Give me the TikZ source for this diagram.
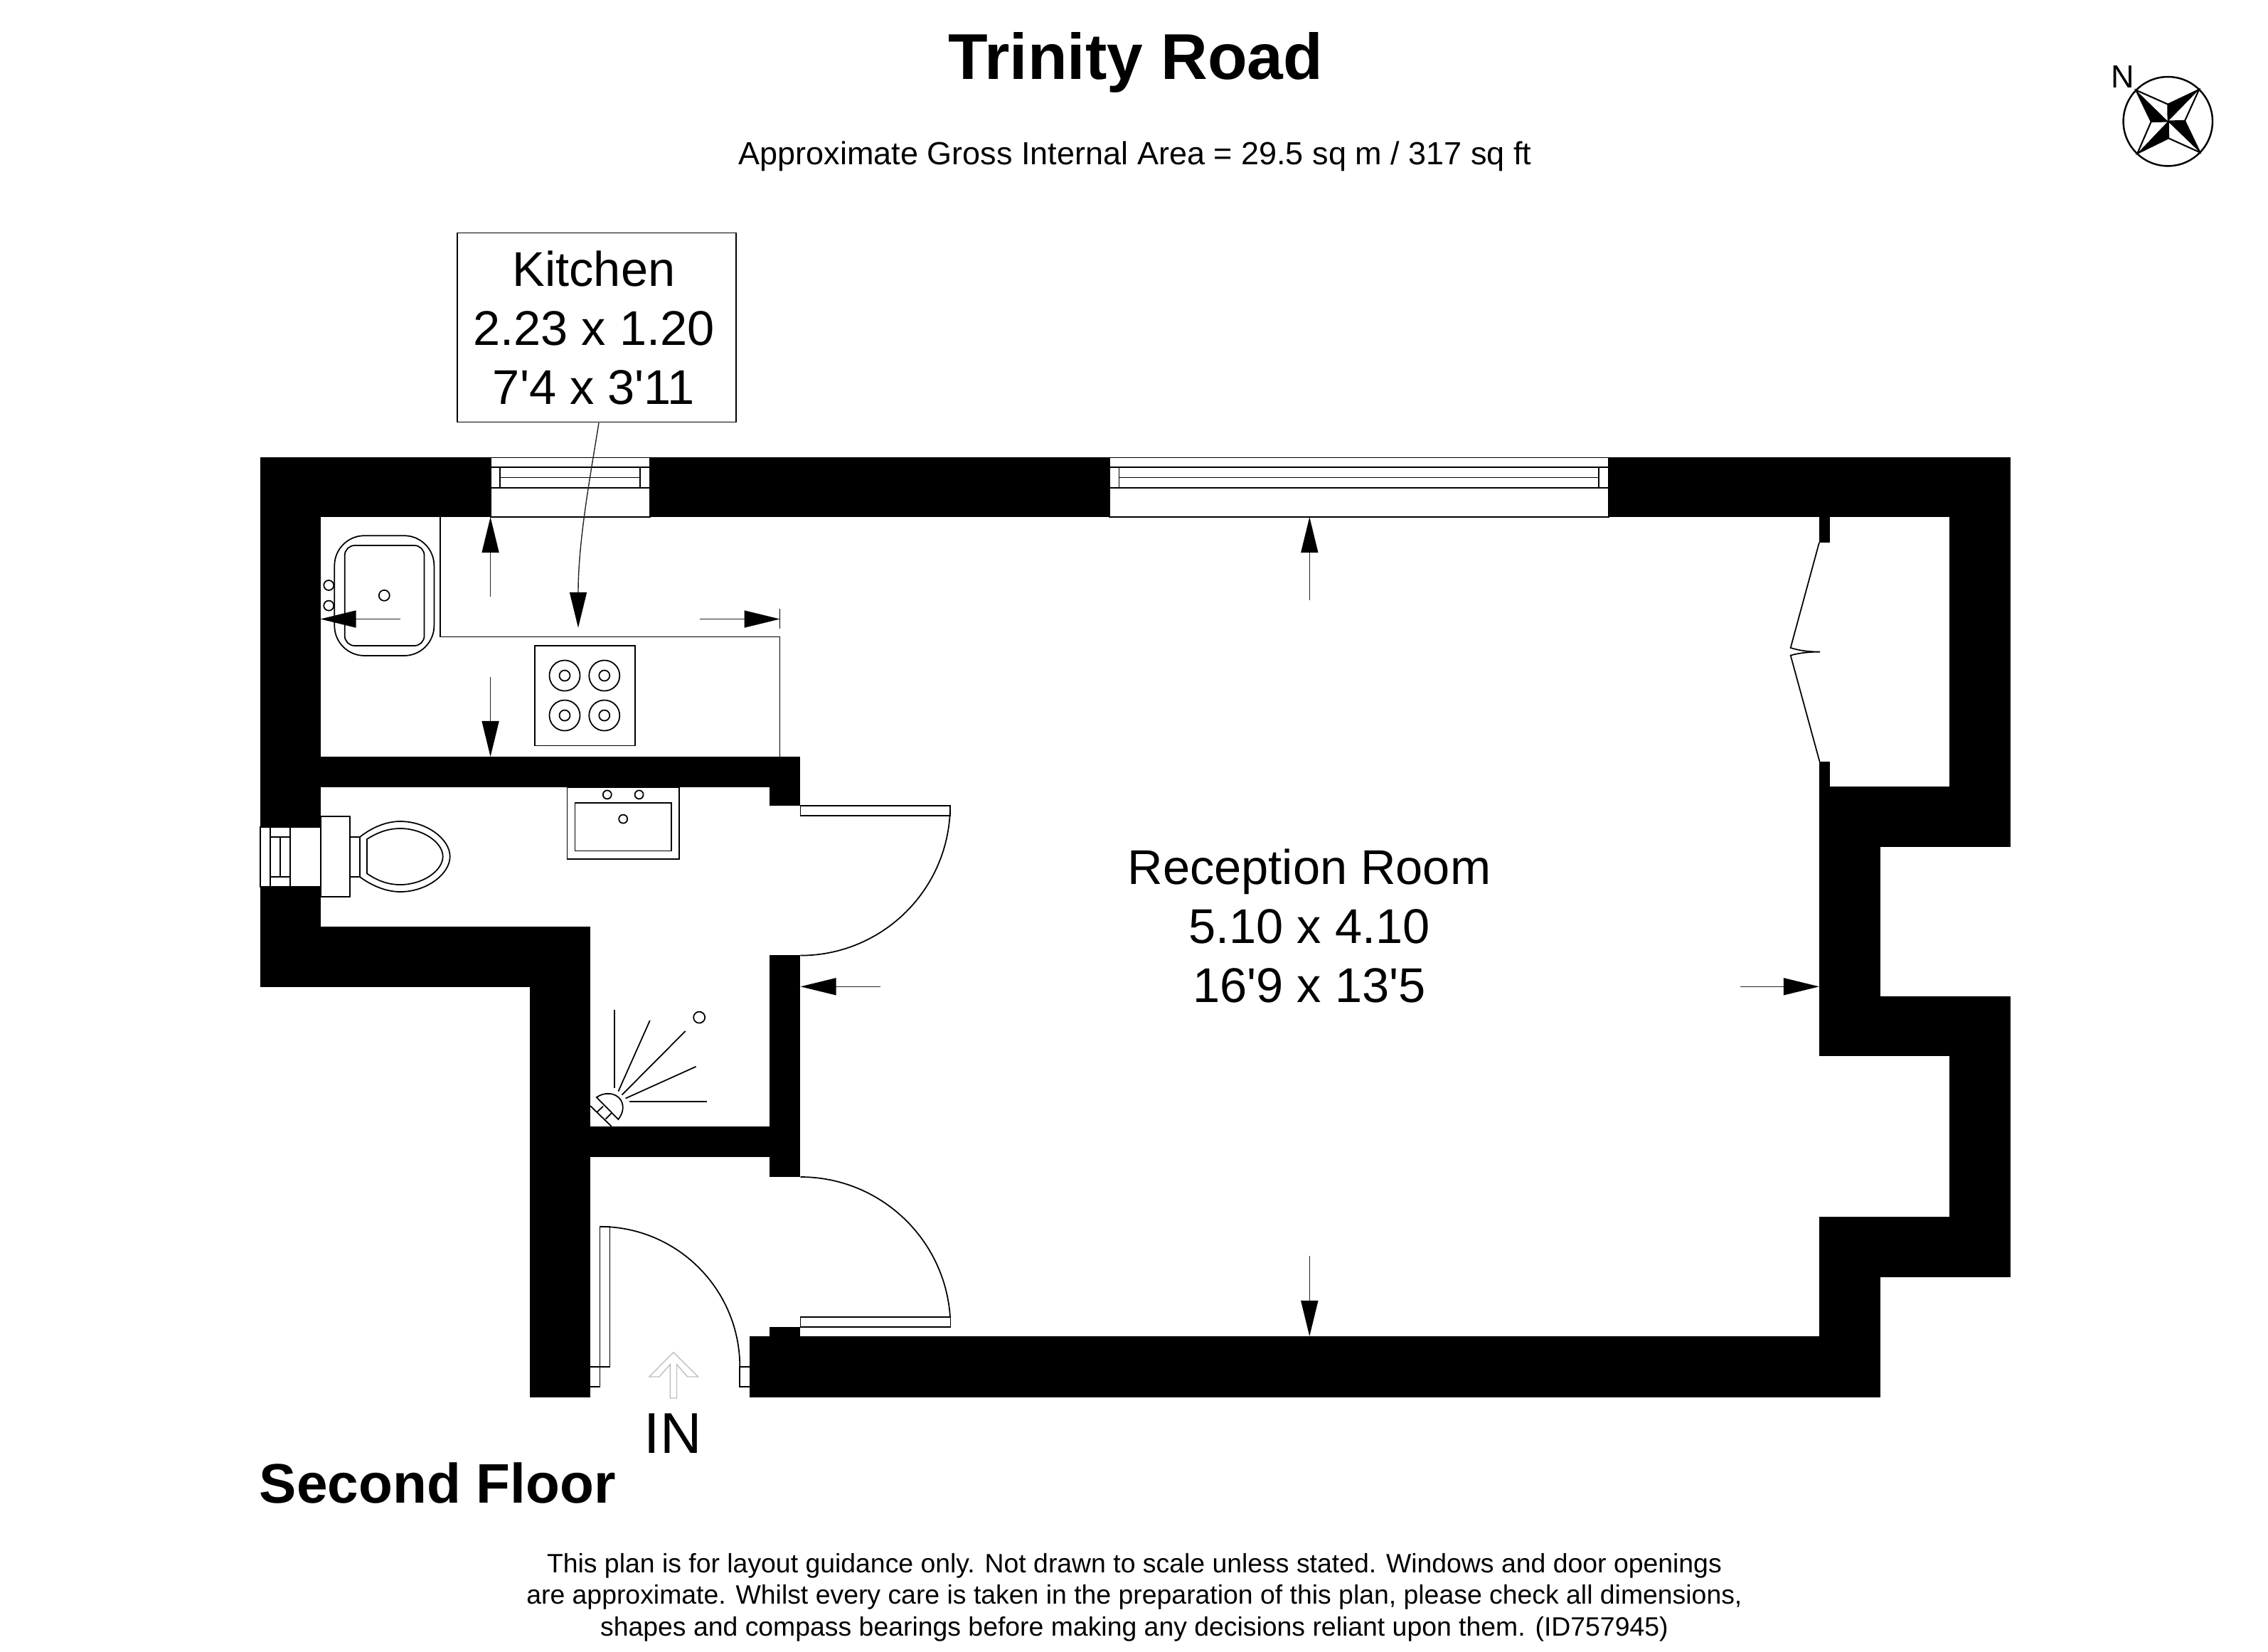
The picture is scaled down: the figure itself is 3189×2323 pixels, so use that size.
\documentclass[tikz,border=0pt]{standalone}
\usepackage{fontspec}
\setmainfont{Liberation Sans}
\usetikzlibrary{arrows.meta}
\tikzset{
  wall/.style={fill=black},
  thinline/.style={line width=0.5pt,color=black},
  dimline/.style={line width=0.4pt,color=black!85,-{Triangle[length=5mm,width=2.4mm,color=black,fill=black]}},
  roomtext/.style={inner sep=0pt,align=center,font=\fontsize{19.5pt}{23.6pt}\selectfont}
}
\begin{document}
\begin{tikzpicture}[x=0.01cm,y=-0.01cm]
        \useasboundingbox (0,0) rectangle (3189,2323);
        \fill [white] (0,0) rectangle (3189,2323);

        % walls
        \fill [wall] (365.5,642.5) rectangle (690,727);
        \fill [wall] (914,642.5) rectangle (1559.7,727);
        \fill [wall] (2262,642.5) rectangle (2826.7,727);
        \fill [wall] (365.5,727) rectangle (450.5,1163.3);
        \fill [wall] (365.5,1246.7) rectangle (450.5,1302.6);
        \fill [wall] (365.5,1302.6) rectangle (830,1388);
        \fill [wall] (745,1388) rectangle (830,1964.6);
        \fill [wall] (450.5,1064) rectangle (1125.4,1107);
        \fill [wall] (1082.3,1107) rectangle (1125.4,1132.8);
        \fill [wall] (1082.3,1343) rectangle (1125.4,1655);
        \fill [wall] (830,1584) rectangle (1082.3,1626.6);
        \fill [wall] (1082.3,1866) rectangle (1125.4,1880);
        \fill [wall] (1054,1879) rectangle (2644,1964.6);
        \fill [wall] (2741,727) rectangle (2826.7,1106.4);
        \fill [wall] (2558,727) rectangle (2573,762.7);
        \fill [wall] (2558,1070.8) rectangle (2573,1106.4);
        \fill [wall] (2558,1106.4) rectangle (2826.7,1191);
        \fill [wall] (2558,1191) rectangle (2643.7,1401);
        \fill [wall] (2558,1401) rectangle (2826.7,1485);
        \fill [wall] (2741,1485) rectangle (2826.7,1711);
        \fill [wall] (2558,1711) rectangle (2826.7,1796);
        \fill [wall] (2558,1796) rectangle (2643.7,1880);

        % windows
        \draw [thinline] (690,643.5) rectangle (914,727);
        \draw [thinline] (690,656.7) -- (914,656.7);
        \draw [thinline] (690,685.8) -- (914,685.8);
        \draw [thinline] (703,671.5) -- (900,671.5);
        \draw [thinline] (703,656.7) -- (703,685.8);
        \draw [thinline] (900,656.7) -- (900,685.8);
        \draw [thinline] (1559.7,643.5) rectangle (2262,727);
        \draw [thinline] (1559.7,656.7) -- (2262,656.7);
        \draw [thinline] (1559.7,685.8) -- (2262,685.8);
        \draw [thinline] (1573.5,671.5) -- (2248,671.5);
        \draw [thinline] (1573.5,656.7) -- (1573.5,685.8);
        \draw [thinline] (2248,656.7) -- (2248,685.8);
        \draw [thinline] (366,1163.3) rectangle (450.5,1246.7);
        \draw [thinline] (379.7,1163.3) -- (379.7,1246.7);
        \draw [thinline] (407.7,1163.3) -- (407.7,1246.7);
        \draw [thinline] (379.7,1176.7) -- (407.7,1176.7);
        \draw [thinline] (379.7,1233.3) -- (407.7,1233.3);
        \draw [thinline] (393.7,1176.7) -- (393.7,1233.3);

        % doors
        \draw [thinline] (1125.4,1132.8) rectangle (1336,1147);
        \draw [thinline] (1336,1133) arc (0:90:210.6);
        \draw [thinline] (1125.4,1852) rectangle (1336.4,1866);
        \draw [thinline] (1125.5,1655) arc (-90:-4:211);
        \draw [thinline] (830,1922) -- (857.6,1922) -- (857.6,1724.8) -- (843.4,1724.8) -- (843.4,1950) -- (830,1950);
        \draw [thinline] (843.4,1724.8) arc (-90:0:196.9 and 197.2);
        \draw [thinline] (1054,1922) -- (1040.3,1922) -- (1040.3,1950) -- (1054,1950);
        \draw [thinline] (2558,762.7) -- (2517.7,910.9) .. controls (2530,915) and (2545,916.6) .. (2559,916.6) .. controls (2545,916.6) and (2530,918) .. (2517.7,921.6) -- (2558.5,1070.8);

        % kitchen
        \draw [thinline] (619,727) -- (619,895.5) -- (1096.6,895.5) -- (1096.6,1064);
        \draw [thinline] (1096.6,856) -- (1096.6,884);
        \draw [thinline,rounded corners=12] (470.3,753.2) rectangle (610.4,922);
        \draw [thinline,rounded corners=4] (484.7,767) rectangle (596.6,908);
        \draw [thinline] (540.3,837.3) circle (7.5);
        \draw [thinline] (462.3,823) circle (7);
        \draw [thinline] (462.3,851.6) circle (7);
        \draw [thinline] (752,908) rectangle (892.8,1048.6);
        \foreach \hobx in {794,849.8}
          \foreach \hoby in {950,1006} {
            \draw [thinline] (\hobx,\hoby) circle (21.5);
            \draw [thinline] (\hobx,\hoby) circle (7.5);
          }

        % bathroom
        \draw [thinline] (797.5,1107) rectangle (954.8,1207.8);
        \draw [thinline] (808.4,1129) rectangle (943.9,1196.5);
        \draw [thinline] (853.8,1117.4) circle (6);
        \draw [thinline] (898.6,1117.4) circle (6);
        \draw [thinline] (876.2,1151.6) circle (6);
        \draw [thinline] (450.7,1148.3) rectangle (492.3,1261.3);
        \draw [thinline] (492.3,1176.7) rectangle (506.3,1233.3);
        \draw [thinline] (506.3,1176.7) .. controls (525,1162) and (545,1155) .. (562.7,1155) .. controls (600,1155) and (632.7,1180) .. (632.7,1204.3) .. controls (632.7,1229) and (600,1254) .. (562.7,1254) .. controls (545,1254) and (525,1247) .. (506.3,1233.3);
        \draw [thinline] (516,1180) .. controls (530,1171) and (545,1165) .. (562.7,1165) .. controls (595,1165) and (622.7,1185) .. (622.7,1204.3) .. controls (622.7,1224) and (595,1244) .. (562.7,1244) .. controls (545,1244) and (530,1238) .. (516,1228.3) -- cycle;

        % shower
        \draw [thinline] (830,1555) -- (859.7,1583.8);
        \draw [thinline] (848,1555.6) -- (839.3,1564);
        \draw [thinline] (859.7,1565.4) -- (851.5,1573.5);
        \draw [thinline,fill=white] (838.8,1543) .. controls (850,1535) and (866,1536) .. (873,1547) .. controls (878,1556) and (876,1565) .. (869.4,1574) -- cycle;
        \draw [thinline] (864.3,1420.4) -- (864.3,1529.7);
        \draw [thinline] (913.8,1435) -- (869.4,1534.6);
        \draw [thinline] (963.8,1449.8) -- (874.5,1539.6);
        \draw [thinline] (978.6,1499.8) -- (879.6,1544.5);
        \draw [thinline] (993.9,1549) -- (884.7,1549);
        \draw [thinline] (983.2,1430.6) circle (8);

        % entrance arrow
        \draw [line width=0.4pt,color=black!25] (947,1901.6) -- (981.6,1936) -- (966.8,1936) -- (951.5,1918.6) -- (951.5,1966) -- (942.3,1966) -- (942.3,1918.6) -- (927,1936) -- (912.8,1936) -- cycle;

        % dimension arrows
        \draw [dimline] (689.6,839.4) -- (689.6,727);
        \draw [dimline] (689.6,951.6) -- (689.6,1064);
        \draw [dimline] (562.7,870.5) -- (450.5,870.5);
        \draw [dimline] (984,870.5) -- (1096.6,870.5);
        \draw [dimline] (1841.3,843.6) -- (1841.3,727);
        \draw [dimline] (1841.3,1765.5) -- (1841.3,1879);
        \draw [dimline] (1237.8,1387.3) -- (1125.5,1387.3);
        \draw [dimline] (2447,1387.3) -- (2558,1387.3);

        % compass
        \draw [line width=0.7pt] (3048.3,170.7) circle (62.7);
        \fill (3003.3,126.7) -- (3024.7,171) -- (3048.3,170.7) -- cycle;
        \fill (3092,126) -- (3048.3,146.7) -- (3048.3,170.7) -- cycle;
        \fill (3093.3,214.3) -- (3072,170) -- (3048.3,170.7) -- cycle;
        \fill (3005.3,215.7) -- (3049,194.3) -- (3048.3,170.7) -- cycle;
        \draw [line width=0.6pt] (3003.3,126.7) -- (3048.3,146.7) -- (3092,126) -- (3072,170) -- (3093.3,214.3) -- (3049,194.3) -- (3005.3,215.7) -- (3024.7,171) -- cycle;
        \draw [line width=0.6pt] (3024.7,171) -- (3072,170);
        \draw [line width=0.6pt] (3048.3,146.7) -- (3049,194.3);
        \node [inner sep=0pt,font=\fontsize{12.8pt}{15pt}\selectfont] (north) at (2984.3,107.7) {N};

        % texts
        \node [inner sep=0pt,font=\fontsize{25.9pt}{30pt}\selectfont\bfseries] (title) at (1597,88) {Trinity Road};
        \node [inner sep=0pt,font=\fontsize{12.8pt}{15pt}\selectfont] (area) at (1596,220) {Approximate Gross Internal Area = 29.5 sq m / 317 sq ft};
        \node [draw,line width=0.5pt,minimum width=3.92cm,minimum height=2.66cm] (kitchenbox) at (839,460.5) {};
        \node [roomtext] (kitchen) at (835,460.5) {Kitchen\\2.23 x 1.20\\7\textquotesingle 4 x 3\textquotesingle 11};
        \node [roomtext] (reception) at (1841,1302) {Reception Room\\5.10 x 4.10\\16\textquotesingle 9 x 13\textquotesingle 5};
        \node [inner sep=0pt,font=\fontsize{23pt}{27pt}\selectfont] (entry) at (946,2016) {IN};
        \node [inner sep=0pt,anchor=west,font=\fontsize{22.3pt}{27pt}\selectfont\bfseries] (floor) at (364,2085) {Second Floor};
        \node [inner sep=0pt,align=center,font=\fontsize{10.63pt}{12.6pt}\selectfont] (notice) at (1595,2246) {This plan is for layout guidance only. Not drawn to scale unless stated. Windows and door openings\\are approximate. Whilst every care is taken in the preparation of this plan, please check all dimensions,\\shapes and compass bearings before making any decisions reliant upon them. (ID757945)};

        % kitchen leader
        \coordinate (hobtip) at (813,882.8);
        \draw [dimline] ([xshift=0.03cm]kitchenbox.south) .. controls (830,670) and (813,760) .. (hobtip);
\end{tikzpicture}
\end{document}
